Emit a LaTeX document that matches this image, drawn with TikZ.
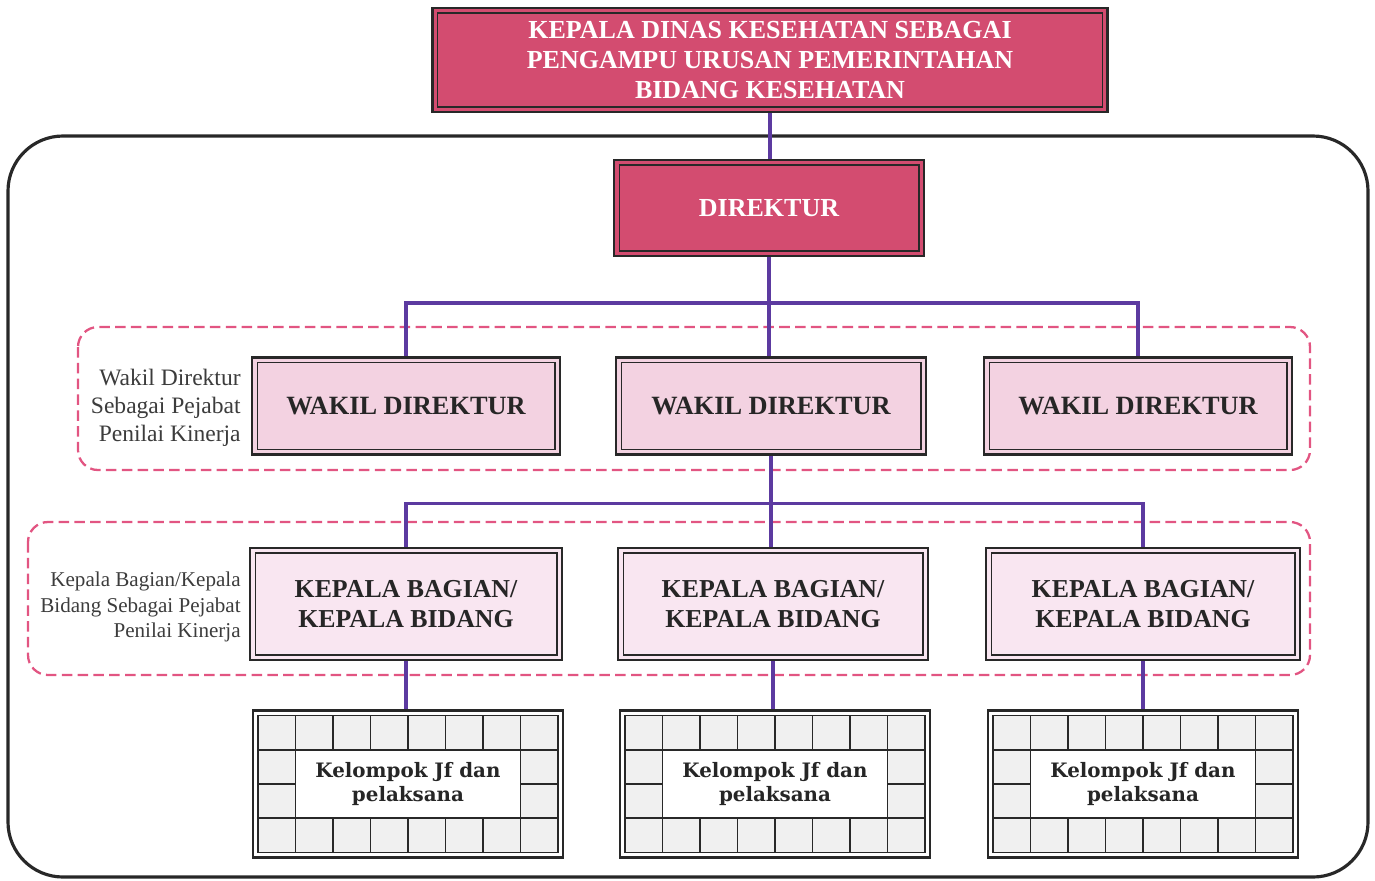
\documentclass[tikz,border=0pt]{standalone}
\usepackage{fontspec}
\setmainfont{Liberation Serif}
\newfontfamily\slabfont{DejaVu Serif}
\definecolor{crimsonfill}{RGB}{211,76,112}
\definecolor{wakilfill}{RGB}{243,210,225}
\definecolor{kabagfill}{RGB}{249,230,241}
\definecolor{linkpurple}{RGB}{92,58,160}
\definecolor{dashpink}{RGB}{226,85,130}
\definecolor{framedark}{RGB}{40,40,40}
\definecolor{textdark}{RGB}{38,38,38}
\definecolor{labelgray}{RGB}{60,60,60}
\definecolor{cellgray}{RGB}{240,240,240}
\begin{document}
\begin{tikzpicture}[x=0.02cm,y=-0.02cm,
  dbl/.style={draw=framedark, line width=1.6pt, inner sep=0pt,
    path picture={\draw[line width=0.6pt, framedark]
      ([shift={(0.1cm,0.1cm)}]path picture bounding box.south west) rectangle
      ([shift={(-0.1cm,-0.1cm)}]path picture bounding box.north east);}},
  headbox/.style={dbl, fill=crimsonfill, text=white, align=center,
    font=\fontsize{14.8}{17}\selectfont\bfseries},
  wakilbox/.style={dbl, fill=wakilfill, text=textdark, align=center,
    minimum width=6.16cm, minimum height=1.94cm,
    font=\fontsize{15}{18}\selectfont\bfseries},
  kabagbox/.style={dbl, fill=kabagfill, text=textdark, align=center,
    minimum width=6.24cm, minimum height=2.24cm,
    font=\fontsize{14.7}{17}\selectfont\bfseries},
  gridline/.style={line width=0.9pt, framedark},
  groupbox/.style={draw=framedark, line width=1.6pt, fill=white, inner sep=0pt,
    minimum width=6.2cm, minimum height=2.94cm, align=center, text=textdark,
    font=\slabfont\fontsize{11.3}{14}\selectfont\bfseries},
  sidelabel/.style={anchor=east, align=right, text=labelgray, inner sep=0pt},
  zone/.style={draw=dashpink, line width=1.3pt, dash pattern=on 6pt off 3pt,
    rounded corners=0.4cm},
  link/.style={draw=linkpurple, line width=2pt}
]
\useasboundingbox (0,0) rectangle (1375,880);

% outer frame of the hospital unit
\draw[framedark, line width=1.8pt, rounded corners=1.1cm] (8,136) rectangle (1368,877);

% dashed groupings of assessing officials
\draw[zone] (78,327) rectangle (1310,470);
\draw[zone] (28,522) rectangle (1310,675);

% top level
\node[headbox, minimum width=13.5cm, minimum height=2.08cm] (kadis) at (770,60)
  {KEPALA DINAS KESEHATAN SEBAGAI\\PENGAMPU URUSAN PEMERINTAHAN\\BIDANG KESEHATAN};
\node[headbox, minimum width=6.2cm, minimum height=1.92cm] (dir) at (769,208) {DIREKTUR};

% deputy directors
\node[wakilbox] (wk1) at (406,406) {WAKIL DIREKTUR};
\node[wakilbox, minimum width=6.2cm] (wk2) at (771,406) {WAKIL DIREKTUR};
\node[wakilbox] (wk3) at (1138,406) {WAKIL DIREKTUR};

% heads of division
\node[kabagbox] (kb1) at (406,604) {KEPALA BAGIAN/\\KEPALA BIDANG};
\node[kabagbox, minimum width=6.2cm] (kb2) at (773,604) {KEPALA BAGIAN/\\KEPALA BIDANG};
\node[kabagbox, minimum width=6.28cm] (kb3) at (1143,604) {KEPALA BAGIAN/\\KEPALA BIDANG};

% functional groups
\node[groupbox] (kj1) at (408,784) {Kelompok Jf dan\\pelaksana};
\node[groupbox] (kj2) at (775,784) {Kelompok Jf dan\\pelaksana};
\node[groupbox] (kj3) at (1143,784) {Kelompok Jf dan\\pelaksana};

% tiled border of each functional group box
\foreach \n in {kj1,kj2,kj3}{
  \begin{scope}[shift={(\n.center)}]
    \fill[cellgray, even odd rule] (-3cm,-1.37cm) rectangle (3cm,1.37cm)
      (-2.25cm,-0.685cm) rectangle (2.25cm,0.685cm);
    \draw[gridline] (-3cm,-1.37cm) rectangle (3cm,1.37cm);
    \draw[gridline] (-3cm,0.685cm) -- (3cm,0.685cm);
    \draw[gridline] (-3cm,-0.685cm) -- (3cm,-0.685cm);
    \draw[gridline] (-2.25cm,-1.37cm) -- (-2.25cm,1.37cm);
    \draw[gridline] (2.25cm,-1.37cm) -- (2.25cm,1.37cm);
    \draw[gridline] (-3cm,0cm) -- (-2.25cm,0cm);
    \draw[gridline] (2.25cm,0cm) -- (3cm,0cm);
    \foreach \gx in {-1.5,-0.75,0,0.75,1.5}{
      \draw[gridline] (\gx cm,0.685cm) -- (\gx cm,1.37cm);
      \draw[gridline] (\gx cm,-1.37cm) -- (\gx cm,-0.685cm);
    }
  \end{scope}
}

% side labels
\node[sidelabel, font=\fontsize{13.4}{16}\selectfont] (lbwk) at (241,408)
  {Wakil Direktur\\Sebagai Pejabat\\Penilai Kinerja};
\node[sidelabel, font=\fontsize{12}{14.3}\selectfont] (lbkb) at (241,607)
  {Kepala Bagian/Kepala\\Bidang Sebagai Pejabat\\Penilai Kinerja};

% connectors
\draw[link] (kadis.south) -- (kadis.south |- dir.north);
\draw[link] (dir.south) -- (dir.south |- wk2.north);
\draw[link] (wk1.north) -- ++(0,-53) -| (wk3.north);
\draw[link] (wk2.south) -- (wk2.south |- kb2.north);
\draw[link] (kb1.north) -- ++(0,-43) -| (kb3.north);
\draw[link] (kb1.south) -- (kb1.south |- kj1.north);
\draw[link] (kb2.south) -- (kb2.south |- kj2.north);
\draw[link] (kb3.south) -- (kb3.south |- kj3.north);
\end{tikzpicture}
\end{document}
